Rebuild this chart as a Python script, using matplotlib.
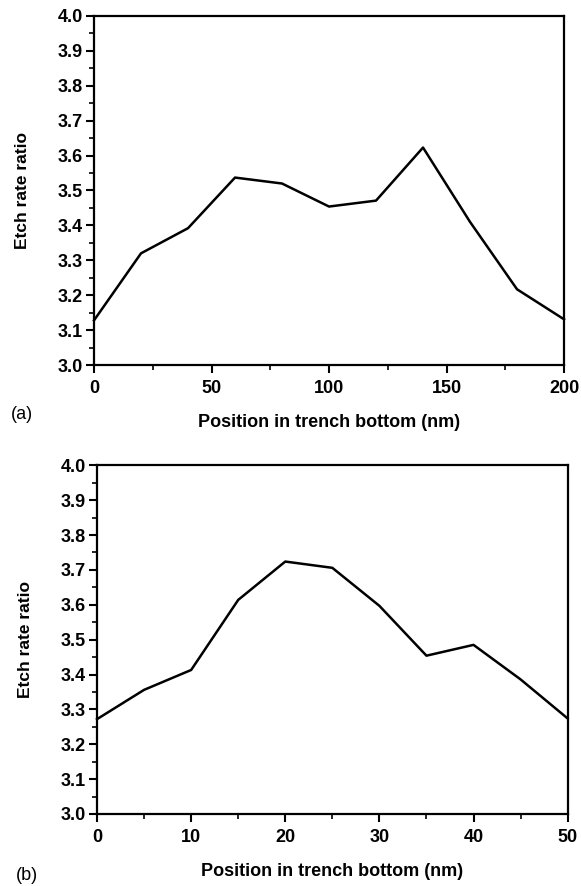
import matplotlib
matplotlib.use('Agg')
import matplotlib.pyplot as plt
from matplotlib.ticker import MultipleLocator

plt.rcParams['font.family'] = ['Liberation Sans', 'DejaVu Sans']

# panel (a)
pos_a = [0, 20, 40, 60, 80, 100, 120, 140, 160, 180, 200]
ratio_a = [3.128, 3.32, 3.392, 3.537, 3.52, 3.454, 3.471, 3.623, 3.41, 3.217, 3.131]

# panel (b)
pos_b = [0, 5, 10, 15, 20, 25, 30, 35, 40, 45, 50]
ratio_b = [3.272, 3.356, 3.413, 3.614, 3.724, 3.706, 3.597, 3.454, 3.485, 3.386, 3.274]

fig = plt.figure(figsize=(5.81, 8.86), dpi=100)
ax1 = fig.add_axes([0.1618, 0.588, 0.809, 0.394])
ax2 = fig.add_axes([0.167, 0.0813, 0.810, 0.3935])

def style(ax, xmax, xmajor, xminor):
    ax.set_xlim(0, xmax)
    ax.set_ylim(3.0, 4.0)
    ax.xaxis.set_major_locator(MultipleLocator(xmajor))
    ax.xaxis.set_minor_locator(MultipleLocator(xminor))
    ax.yaxis.set_major_locator(MultipleLocator(0.1))
    ax.yaxis.set_minor_locator(MultipleLocator(0.05))
    ax.tick_params(which='major', direction='out', length=6, width=1.5,
                   labelsize=13, pad=2)
    ax.tick_params(axis='x', which='major', pad=5)
    ax.tick_params(which='minor', direction='out', length=3.5, width=1.2)
    for lab in ax.get_xticklabels() + ax.get_yticklabels():
        lab.set_fontweight('bold')
    for s in ax.spines.values():
        s.set_linewidth(1.6)
    ax.set_ylabel('Etch rate ratio', fontsize=12.5, fontweight='bold', labelpad=20)
    ax.set_xlabel('Position in trench bottom (nm)', fontsize=13,
                  fontweight='bold', labelpad=12)

ax1.plot(pos_a, ratio_a, color='black', lw=1.8, clip_on=False)
style(ax1, 200, 50, 25)
ax2.plot(pos_b, ratio_b, color='black', lw=1.8, clip_on=False)
style(ax2, 50, 10, 5)

fig.text(0.019, 0.527, '(a)', fontsize=13)
fig.text(0.027, 0.002, '(b)', fontsize=13, va='bottom')

fig.savefig('out.png', dpi=100)
